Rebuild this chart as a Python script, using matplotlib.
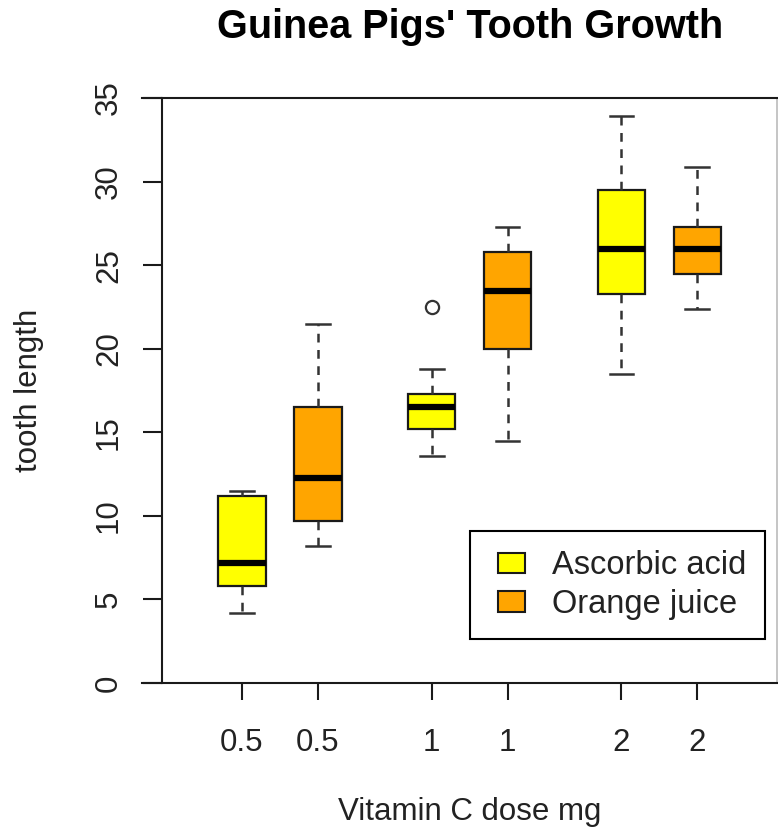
import matplotlib
matplotlib.use("Agg")
import matplotlib.pyplot as plt
from matplotlib.patches import Patch, Rectangle
from matplotlib.legend_handler import HandlerPatch

plt.rcParams['font.family'] = ['Liberation Sans', 'DejaVu Sans']

# Daten: Zahnlaenge je Gruppe (VC / OJ fuer 0.5, 1, 2 mg)
positions = [0.8, 1.2, 1.8, 2.2, 2.8, 3.2]
tick_labels = ["0.5", "0.5", "1", "1", "2", "2"]
medians = [7.15, 12.25, 16.5, 23.45, 25.95, 25.95]
q1 = [5.8, 9.7, 15.2, 20.0, 23.3, 24.5]
q3 = [11.2, 16.5, 17.3, 25.8, 29.5, 27.3]
whis_lo = [4.2, 8.2, 13.6, 14.5, 18.5, 22.4]
whis_hi = [11.5, 21.5, 18.8, 27.3, 33.9, 30.9]
outliers = [[], [], [22.5], [], [], []]
supp = ["Ascorbic acid", "Orange juice", "Ascorbic acid", "Orange juice", "Ascorbic acid", "Orange juice"]
farben = {"Ascorbic acid": "#FFFF00", "Orange juice": "#FFA500"}

fs = 22.5
edge = "#1a1a1a"

fig = plt.figure(figsize=(7.78, 8.30), dpi=100)
ax = fig.add_axes([142/778, 147/830, 635/778, 585/830])

stats = []
for i in range(len(positions)):
    stats.append(dict(med=medians[i], q1=q1[i], q3=q3[i], whislo=whis_lo[i],
                      whishi=whis_hi[i], fliers=outliers[i]))

bp = ax.bxp(stats, positions=positions, widths=0.25, capwidths=0.125,
            patch_artist=True, manage_ticks=False,
            boxprops=dict(edgecolor=edge, linewidth=1.6),
            medianprops=dict(color="black", linewidth=4.5, solid_capstyle="butt"),
            whiskerprops=dict(color="#333333", linewidth=1.8, linestyle=(0, (3.5, 3))),
            capprops=dict(color="#333333", linewidth=1.8),
            flierprops=dict(marker="o", markersize=9.5, markerfacecolor="none",
                            markeredgecolor="#333333", markeredgewidth=1.6))
for box, s in zip(bp["boxes"], supp):
    box.set_facecolor(farben[s])

ax.set_xlim(0.273, 3.62)
ax.set_ylim(0, 35)
ax.set_xticks(positions)
ax.set_xticklabels(tick_labels)
ax.set_yticks(range(0, 36, 5))

for sp in ["top", "bottom", "left"]:
    ax.spines[sp].set_linewidth(1.5)
    ax.spines[sp].set_color(edge)
ax.spines["right"].set_color("#bbbbbb")
ax.spines["right"].set_linewidth(1.2)
ax.spines["left"].set_position(("data", 0.38))

ax.tick_params(axis="y", direction="out", length=13.5, width=1.5, color=edge,
               labelsize=fs, pad=14, labelcolor="#222222", labelrotation=90)
for lbl in ax.get_yticklabels():
    lbl.set_va("center")
ax.tick_params(axis="x", direction="out", length=12.5, width=1.5, color=edge,
               labelsize=fs, pad=20, labelcolor="#222222")

ax.set_xlabel("Vitamin C dose mg", fontsize=fs, color="#222222")
ax.xaxis.set_label_coords((470 - 142) / 635, (683 - 797) / 585)
ax.set_ylabel("tooth length", fontsize=fs, color="#222222")
ax.yaxis.set_label_coords((44 - 142) / 635, 0.5)

fig.text(470/778, 1 - 27/830, "Guinea Pigs' Tooth Growth", fontsize=28.5,
         fontweight="bold", ha="center", va="center")


# Legendenkaestchen etwas nach rechts einruecken (wie in R)
def kaestchen(legend, orig_handle, xdescent, ydescent, width, height, fontsize):
    w = 0.83 * fontsize
    return Rectangle((-xdescent + width - w, -ydescent), w, height)


handles = [Patch(facecolor=farben[k], edgecolor=edge, linewidth=1.5, label=k)
           for k in ["Ascorbic acid", "Orange juice"]]
leg = ax.legend(handles=handles, loc="lower right",
                bbox_to_anchor=((765 - 142) / 635, (683 - 639) / 585),
                prop=dict(size=23.5), frameon=True, fancybox=False, framealpha=1,
                borderaxespad=0, borderpad=0.58, handlelength=1.1,
                handleheight=0.58, handletextpad=0.83, labelspacing=0.24,
                handler_map={Patch: HandlerPatch(patch_func=kaestchen)})
leg.get_frame().set_edgecolor("black")
leg.get_frame().set_linewidth(1.5)
for t in leg.get_texts():
    t.set_color("#222222")

plt.savefig("out.png", dpi=100)
